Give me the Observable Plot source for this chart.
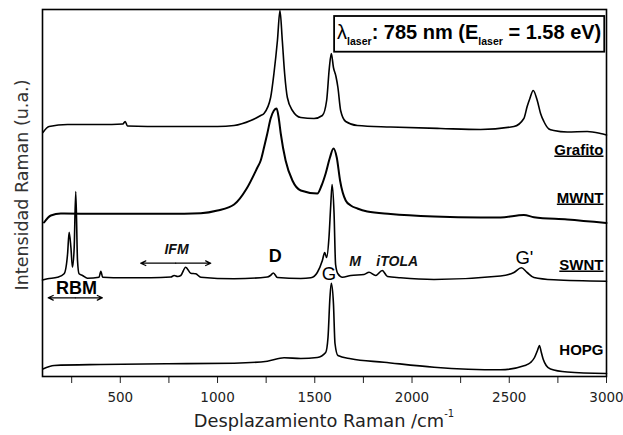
<!DOCTYPE html>
<html>
<head>
<meta charset="utf-8">
<script src="https://cdn.jsdelivr.net/npm/d3@7"></script>
<script src="https://cdn.jsdelivr.net/npm/@observablehq/plot@0.6"></script>
<style>
  html, body { margin: 0; padding: 0; background: #fff; }
  #chart svg { display: block; }
</style>
</head>
<body>
<div id="chart"></div>
<script>
// ---- Data (Raman shift in cm^-1, intensity in arbitrary units, offset spectra) ----
const grafitoX = [102,134,229,400,513,525,537,743,1000,1085,1171,1222,1239,1273,1290,1308,1321,1333,1345,1359,1385,1428,1496,1539,1561,1575,1585,1596,1609,1619,1633,1659,1719,1890,2147,2353,2524,2575,2592,2606,2623,2644,2661,2678,2704,2729,2798,2901,2969,3000];
const grafitoI = [244,250,252,252,252.5,255,250.5,250,250,251,256,261,263,279,303,336,366,336,303,279,266,259,258,261,276,309,323,309,300,289,266,255,251,249.5,248,247,250,258,270,278,286,276,263,255,247.5,246,244.5,245,243,241.5];

const mwntX = [108,143,194,400,743,914,1000,1085,1150,1205,1222,1239,1256,1273,1290,1304,1315,1325,1350,1385,1428,1513,1535,1556,1578,1596,1613,1630,1659,1685,1719,1770,1890,2113,2353,2455,2575,2627,2798,3000];
const mwntI = [154,161,163,162.7,162.7,163.3,166,172,188,209,216,229,243,258,266,268,258,243,216,196,186,183,191,203,219,228,219,196,176,171,168,165,162.5,160,159,159,161.5,159.3,157,153.5];

const swntX = [100,126,177,211,229,237,246,254,263,271,280,288,306,331,391,400,409,520,657,760,777,795,811,836,862,888,914,1085,1256,1272,1287,1308,1428,1480,1513,1539,1551,1561,1573,1582,1589,1599,1607,1619,1642,1685,1753,1779,1813,1847,1874,1941,2113,2455,2524,2562,2592,2627,2729,3000];
const swntI = [96.5,97.7,99.3,102.7,122.7,144.3,129.3,109.3,129.3,185,116,102.7,101,98.3,99.3,105.3,99.3,98.7,98.7,99.5,101,100,101,109.3,103.3,102.7,99.3,97.7,99.5,101,103.5,99,98,98.7,104,116,124,119,139,171,192,164,112,102.7,99.3,101,102,104.3,101,106,100,98.7,97,100.5,104,108.7,104,99,96.7,95.3];

const hopgX = [102,160,400,743,1085,1256,1342,1428,1513,1556,1568,1578,1585,1596,1604,1619,1685,1856,2113,2455,2580,2610,2630,2645,2655,2665,2675,2690,2712,2798,3000];
const hopgI = [7.5,11,12,12.7,13.3,15.3,18.7,18,19,24,39,79,93.3,73,33,21,17.7,14.3,9.3,6.7,11,14,19,26,31,24,17,11,7.5,4.5,3];

// sample names (right side) and their baseline intensity
const sampleNames = ["Grafito", "MWNT", "SWNT", "HOPG"];
const sampleLabelY = [222, 174, 107, 22];
const underlined = ["Grafito", "MWNT", "SWNT"];

// band labels
const bandText = ["D", "G", "G'", "RBM"];
const bandX = [1297, 1573, 2578, 275];
const bandY = [115, 97, 113, 82.7];
const bandWeight = ["bold", "normal", "normal", "bold"];

const modeText = ["IFM", "M", "iTOLA"];
const modeX = [789, 1707, 1924];
const modeY = [122.7, 111, 111];

// double-headed range arrows: [from, to, intensity]
const arrowRanges = [[605, 965, 113.3], [129, 408, 78.7]];

// laser box
const boxX = [1602, 2991];
const boxY = [324.3, 360];
const boxBaseline = 336.7;

// x ticks
const xTicks = d3.range(250, 3001, 250);

// ---- Build tables ----
const toRows = (xs, ys, name) => xs.map((x, i) => ({x, y: ys[i], name}));
const spectra = [
  ...toRows(grafitoX, grafitoI, "Grafito"),
  ...toRows(mwntX, mwntI, "MWNT"),
  ...toRows(swntX, swntI, "SWNT"),
  ...toRows(hopgX, hopgI, "HOPG")
];
const sampleRows = sampleNames.map((t, i) => ({t, y: sampleLabelY[i]}));
const bandRows = bandText.map((t, i) => ({t, x: bandX[i], y: bandY[i], w: bandWeight[i]}));
const modeRows = modeText.map((t, i) => ({t, x: modeX[i], y: modeY[i]}));
const arrowRows = [];
for (const [a, b, y] of arrowRanges) {
  const m = (a + b) / 2;
  arrowRows.push({x1: m, x2: a, y}, {x1: m, x2: b, y});
}

const W = 623, H = 435;
const plot = Plot.plot({
  width: W,
  height: H,
  marginLeft: 42,
  marginRight: 17,
  marginTop: 9,
  marginBottom: 59,
  style: {fontFamily: "DejaVu Sans", fontSize: "13.5px", color: "#222", background: "white"},
  x: {domain: [100, 3000], ticks: xTicks, tickFormat: d => d % 500 === 0 ? String(d) : "", tickSize: 7, tickPadding: 9, label: null},
  y: {domain: [0, 367], axis: null},
  marks: [
    Plot.line(spectra.filter(d => d.name !== "MWNT"), {x: "x", y: "y", z: "name", curve: "monotone-x", stroke: "black", strokeWidth: 1.6, strokeLinejoin: "round"}),
    Plot.line(spectra.filter(d => d.name === "MWNT"), {x: "x", y: "y", curve: "monotone-x", stroke: "black", strokeWidth: 2, strokeLinejoin: "round"}),
    Plot.rect([{x1: boxX[0], x2: boxX[1], y1: boxY[0], y2: boxY[1]}], {x1: "x1", x2: "x2", y1: "y1", y2: "y2", fill: "white", stroke: "black", strokeWidth: 1.8}),
    Plot.text(sampleRows, {x: () => 3000, y: "y", text: "t", textAnchor: "end", lineAnchor: "bottom", dx: -3, fontFamily: "Liberation Sans, Arial, sans-serif", fontWeight: "bold", fontSize: 15, fill: "black"}),
    Plot.text(bandRows.filter(d => d.w === "bold"), {x: "x", y: "y", text: "t", lineAnchor: "bottom", fontFamily: "Liberation Sans, Arial, sans-serif", fontWeight: "bold", fontSize: 18, fill: "black"}),
    Plot.text(bandRows.filter(d => d.w !== "bold"), {x: "x", y: "y", text: "t", lineAnchor: "bottom", fontFamily: "Liberation Sans, Arial, sans-serif", fontSize: 18.5, fill: "black"}),
    Plot.text(modeRows, {x: "x", y: "y", text: "t", lineAnchor: "bottom", fontFamily: "Liberation Sans, Arial, sans-serif", fontWeight: "bold", fontStyle: "italic", fontSize: 14, fill: "#111"}),
    Plot.arrow(arrowRows, {x1: "x1", x2: "x2", y1: "y", y2: "y", stroke: "black", strokeWidth: 1.2, headLength: 7, headAngle: 50}),
    Plot.text(["Intensidad Raman (u.a.)"], {frameAnchor: "left", rotate: -90, textAnchor: "middle", lineAnchor: "bottom", dx: -14.5, dy: -8, fontFamily: "DejaVu Sans", fontSize: 17.5, fill: "#333"}),
    Plot.frame({stroke: "black", strokeWidth: 1.6})
  ]
});

const sx = plot.scale("x"), sy = plot.scale("y");
const svg = d3.select(plot);

// underline sample labels
svg.selectAll("text").filter(function() { return underlined.includes(this.textContent); })
  .style("text-decoration", "underline");

// laser box text with subscripts
const lt = svg.append("text")
  .attr("x", sx.apply((boxX[0] + boxX[1]) / 2))
  .attr("y", sy.apply(boxBaseline))
  .attr("text-anchor", "middle")
  .attr("font-family", "Liberation Sans, Arial, sans-serif")
  .attr("font-size", 20)
  .attr("font-weight", "bold")
  .attr("fill", "black")
  .style("white-space", "pre");
lt.append("tspan").attr("font-weight", "normal").text("λ");
lt.append("tspan").attr("font-size", 10.5).attr("dy", 6).text("laser");
lt.append("tspan").attr("dy", -6).text(": 785 nm (E");
lt.append("tspan").attr("font-size", 10.5).attr("dy", 6).text("laser");
lt.append("tspan").attr("dy", -6).text(" = 1.58 eV)");

// x axis title with superscript
const xt = svg.append("text")
  .attr("x", sx.apply(1550))
  .attr("y", H - 8.3)
  .attr("text-anchor", "middle")
  .attr("font-family", "DejaVu Sans")
  .attr("font-size", 17.8)
  .attr("fill", "#222")
  .style("white-space", "pre");
xt.append("tspan").text("Desplazamiento Raman /cm");
xt.append("tspan").attr("font-size", 10).attr("dy", -9.5).text("-1");

document.getElementById("chart").appendChild(plot);
</script>
</body>
</html>
